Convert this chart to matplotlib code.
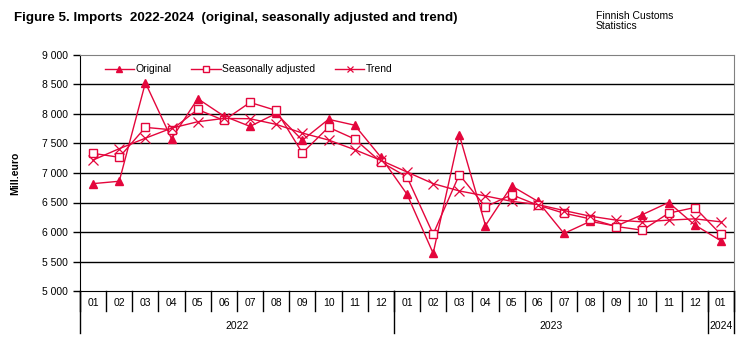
import numpy as np
import matplotlib
matplotlib.use("Agg")
import matplotlib.pyplot as plt
from matplotlib.ticker import FuncFormatter
import matplotlib.transforms as mtransforms

plt.rcParams['font.family'] = ['Liberation Sans', 'DejaVu Sans']

# monthly imports, million euro, 2022-01 .. 2024-01
months = ['01', '02', '03', '04', '05', '06', '07', '08', '09', '10', '11', '12',
          '01', '02', '03', '04', '05', '06', '07', '08', '09', '10', '11', '12',
          '01']
years = ['2022', '2023', '2024']
year_lengths = [12, 12, 1]

original = [6820, 6860, 8530, 7580, 8260, 7965, 7790, 8010, 7555, 7910, 7810, 7270,
            6640, 5640, 7645, 6110, 6780, 6520, 5975, 6180, 6100, 6295, 6500, 6120,
            5850]
seas_adj = [7333, 7266, 7773, 7733, 8077, 7891, 8196, 8060, 7340, 7775, 7576, 7187,
            6933, 5963, 6972, 6426, 6632, 6455, 6319, 6223, 6093, 6031, 6319, 6415,
            5958]
trend = [7220, 7412, 7590, 7760, 7869, 7925, 7920, 7824, 7677, 7559, 7395, 7215,
         7017, 6820, 6696, 6611, 6520, 6465, 6364, 6268, 6201, 6172, 6201, 6223,
         6172]

red = '#E4063C'

fig = plt.figure(figsize=(7.56, 3.4), dpi=100)
ax = fig.add_axes([80 / 756, 1 - 291 / 340, 654 / 756, 236 / 340])

x = np.arange(len(months))
ax.plot(x, original, color=red, lw=1, marker='^', ms=5.5, mfc=red, mec=red, label='Original')
ax.plot(x, seas_adj, color=red, lw=1, marker='s', ms=5.5, mfc='white', mec=red, mew=1,
        label='Seasonally adjusted')
ax.plot(x, trend, color=red, lw=1, marker='x', ms=6.5, mew=0.9, label='Trend')

ax.set_xlim(-0.5, len(months) - 0.5)
ax.set_ylim(5000, 9000)
ax.set_yticks(np.arange(5000, 9001, 500))
ax.yaxis.set_major_formatter(FuncFormatter(lambda v, p: f'{int(v):,}'.replace(',', ' ')))
ax.tick_params(axis='y', labelsize=7.5, length=5, width=1, direction='out', pad=4)
ax.set_xticks([])
for v in np.arange(5500, 9000, 500):
    ax.axhline(v, color='black', lw=1, zorder=0)

ax.spines['left'].set_color('black')
ax.spines['bottom'].set_color('black')
ax.spines['top'].set_color('#808080')
ax.spines['right'].set_color('#808080')

ax.set_ylabel('Mill.euro', fontsize=7.5, fontweight='bold', labelpad=15)

# category axis below the plot
trans = mtransforms.blended_transform_factory(ax.transData, ax.transAxes)
for i, m in enumerate(months):
    ax.text(i, -0.052, m, transform=trans, ha='center', va='center', fontsize=7.5)
for i in range(len(months) + 1):
    ax.plot([i - 0.5, i - 0.5], [0, -0.085], transform=trans, color='black', lw=1,
            clip_on=False)
start = 0
for yr, n in zip(years, year_lengths):
    ax.text(start + n / 2 - 0.5, -0.15, yr, transform=trans, ha='center', va='center',
            fontsize=7.5)
    ax.plot([start - 0.5, start - 0.5], [0, -0.18], transform=trans, color='black',
            lw=1, clip_on=False)
    start += n
ax.plot([start - 0.5, start - 0.5], [0, -0.18], transform=trans, color='black', lw=1,
        clip_on=False)

leg = ax.legend(loc='center left', bbox_to_anchor=(0.038, 0.94), ncol=3, frameon=False,
                fontsize=7.5, handlelength=2.8, markerscale=0.7, columnspacing=1.9,
                handletextpad=0.15, borderaxespad=0, borderpad=0)

fig.text(14 / 756, 1 - 18 / 340,
         'Figure 5. Imports  2022-2024  (original, seasonally adjusted and trend)',
         fontsize=9.6, fontweight='bold', va='center', ha='left')
fig.text(596 / 756, 1 - 21 / 340, 'Finnish Customs\nStatistics', fontsize=7.5,
         va='center', ha='left', linespacing=0.95)

fig.savefig('out.png', dpi=100, facecolor='white')
